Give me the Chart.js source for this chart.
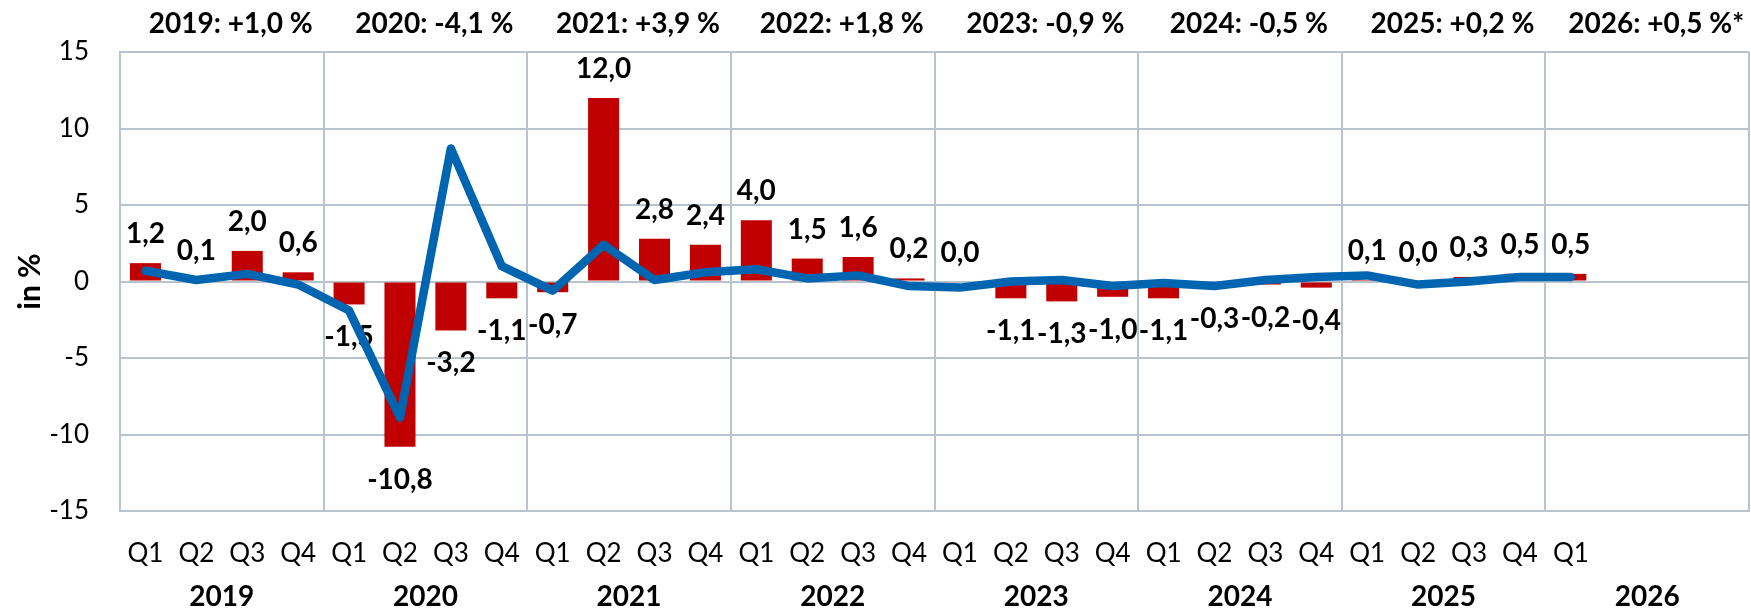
<!DOCTYPE html>
<html>
<head>
<meta charset="utf-8">
<script src="https://cdn.jsdelivr.net/npm/chart.js@4.4.1/dist/chart.umd.min.js"></script>
<style>
  html, body { margin: 0; padding: 0; background: #ffffff; }
  #wrap { width: 1751px; height: 612px; position: relative; }
</style>
</head>
<body>
<div id="wrap"><canvas id="c"></canvas></div>
<script>
// ---- data ----
const quarterLabels = [
  'Q1','Q2','Q3','Q4',  // 2019
  'Q1','Q2','Q3','Q4',  // 2020
  'Q1','Q2','Q3','Q4',  // 2021
  'Q1','Q2','Q3','Q4',  // 2022
  'Q1','Q2','Q3','Q4',  // 2023
  'Q1','Q2','Q3','Q4',  // 2024
  'Q1','Q2','Q3','Q4',  // 2025
  'Q1','','',''         // 2026
];
const yearLabels = ['2019','2020','2021','2022','2023','2024','2025','2026'];
const yearTotals = ['2019: +1,0 %','2020: -4,1 %','2021: +3,9 %','2022: +1,8 %',
                    '2023: -0,9 %','2024: -0,5 %','2025: +0,2 %','2026: +0,5 %*'];
// change vs. same quarter of previous year (bars)
const yoyChange = [
   1.2,  0.1,  2.0,  0.6,
  -1.5,-10.8, -3.2, -1.1,
  -0.7, 12.0,  2.8,  2.4,
   4.0,  1.5,  1.6,  0.2,
   0.0, -1.1, -1.3, -1.0,
  -1.1, -0.3, -0.2, -0.4,
   0.1,  0.0,  0.3,  0.5,
   0.5
];
// change vs. previous quarter (line)
const qoqChange = [
   0.7,  0.1,  0.5, -0.2,
  -1.9, -8.9,  8.7,  1.0,
  -0.6,  2.4,  0.1,  0.6,
   0.8,  0.2,  0.4, -0.3,
  -0.4,  0.0,  0.1, -0.3,
  -0.1, -0.3,  0.1,  0.3,
   0.4, -0.2,  0.0,  0.3,
   0.3
];
const yAxisMin = -15;
const yAxisMax = 15;
const yAxisStep = 5;
const yAxisTitle = 'in %';

// ---- style ----
const GRID = '#B9C3CE';
const FONT = 'Lato';
const BAR_COLOR = '#C00000';
const LINE_COLOR = '#0065B0';

const barLabelPlugin = {
  id: 'barLabels',
  afterDatasetDraw(chart, args) {
    if (args.index !== 0) return;
    const ys = chart.scales.y;
    const c = chart.ctx;
    c.save();
    c.font = 'bold 28px ' + FONT;
    c.fillStyle = '#000000';
    c.textAlign = 'center';
    c.textBaseline = 'middle';
    args.meta.data.forEach((el, i) => {
      const v = yoyChange[i];
      const y = ys.getPixelForValue(v) + (v >= 0 ? -29 : 33);
      c.fillText(v.toFixed(1).replace('.', ','), el.x, y);
    });
    c.restore();
  }
};

new Chart(document.getElementById('c'), {
  type: 'bar',
  data: {
    labels: quarterLabels,
    datasets: [
      {
        type: 'bar',
        label: 'Vorjahresquartal',
        data: yoyChange,
        backgroundColor: BAR_COLOR,
        barPercentage: 0.61,
        categoryPercentage: 1.0,
        order: 1
      },
      {
        type: 'line',
        label: 'Vorquartal',
        data: qoqChange,
        borderColor: LINE_COLOR,
        borderWidth: 8.5,
        pointRadius: 0,
        tension: 0,
        borderJoinStyle: 'round',
        borderCapStyle: 'round',
        fill: false,
        order: 0
      }
    ]
  },
  options: {
    responsive: true,
    maintainAspectRatio: false,
    animation: false,
    layout: { padding: { left: 0, right: 2, top: 0, bottom: 0 } },
    plugins: { legend: { display: false }, tooltip: { enabled: false } },
    scales: {
      x: {
        position: 'bottom',
        offset: true,
        grid: {
          offset: true,
          drawTicks: false,
          lineWidth: 2,
          color: (ctx) => (ctx.type !== 'tick' || ctx.index % 4 === 0) ? GRID : 'rgba(0,0,0,0)'
        },
        border: { color: GRID, width: 2 },
        ticks: { font: { family: FONT, size: 26 }, color: '#000000', padding: 27, maxRotation: 0, autoSkip: false },
        afterFit: (s) => { s.height = 62; }
      },
      xYears: {
        type: 'category',
        labels: yearLabels,
        position: 'bottom',
        offset: true,
        weight: 1,
        grid: { display: false, drawTicks: false },
        border: { display: false },
        ticks: { font: { family: FONT, size: 28, weight: 'bold' }, color: '#000000', padding: 7, maxRotation: 0, autoSkip: false },
        afterFit: (s) => { s.height = 39; }
      },
      xTotals: {
        type: 'category',
        labels: yearTotals,
        position: 'top',
        offset: true,
        grid: { display: false, drawTicks: false },
        border: { display: false },
        ticks: { font: { family: FONT, size: 28, weight: 'bold' }, color: '#000000', padding: 11, labelOffset: 9, maxRotation: 0, autoSkip: false },
        afterFit: (s) => { s.height = 52; }
      },
      y: {
        min: yAxisMin,
        max: yAxisMax,
        ticks: { stepSize: yAxisStep, font: { family: FONT, size: 26 }, color: '#000000', padding: 31 },
        grid: { color: GRID, lineWidth: 2, drawTicks: false },
        border: { color: GRID, width: 2 },
        title: { display: true, text: yAxisTitle, font: { family: FONT, size: 30, weight: 'bold' }, color: '#000000', padding: { top: 12, bottom: 0 } },
        afterFit: (s) => { s.width = 120; }
      }
    }
  },
  plugins: [barLabelPlugin]
});
</script>
</body>
</html>
